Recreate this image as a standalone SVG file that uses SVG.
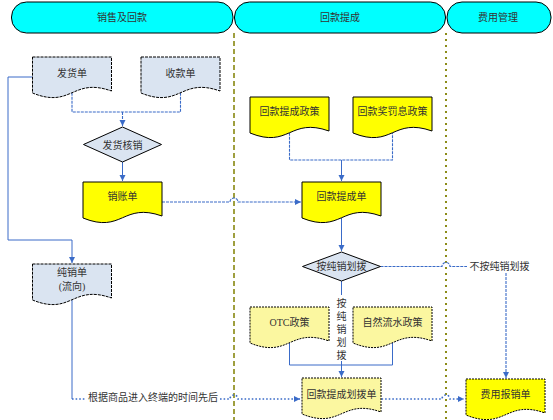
<svg xmlns="http://www.w3.org/2000/svg" width="553" height="420" viewBox="0 0 553 420">
<style>
text{font-family:"Liberation Serif","Noto Sans CJK SC",serif;font-size:10px;fill:#333;text-anchor:middle;dominant-baseline:central}
.pill{fill:#00FFFF;stroke:#000;stroke-width:1}
.docb{fill:#DAE4F1;stroke:#000;stroke-width:1;stroke-dasharray:3 1}
.docy{fill:#FFFF00;stroke:#000;stroke-width:1}
.docp{fill:#FBF7A0;stroke:#000;stroke-width:1;stroke-dasharray:2 1}
.docyd{fill:#FFFF00;stroke:#000;stroke-width:1;stroke-dasharray:2 1}
.dia{fill:#DAE4F1;stroke:#000;stroke-width:1}
.lane1{stroke:#808000;stroke-width:1.5;stroke-dasharray:5 3;fill:none}
.lane2{stroke:#808000;stroke-width:1.8;stroke-dasharray:2 4;fill:none}
.c{fill:none;stroke:#3A6BC8;stroke-width:1}
.cf{fill:none;stroke:#3A6BC8;stroke-width:1.1;stroke-dasharray:3 1}
.cd{fill:none;stroke:#3A6BC8;stroke-width:1.6;stroke-dasharray:1.6 2}
</style>
<defs>
<marker id="arr" markerWidth="7" markerHeight="7" refX="6" refY="3.5" orient="auto" markerUnits="userSpaceOnUse">
<path d="M0,0.5 L6,3.5 L0,6.5 z" fill="#3A6BC8"/>
</marker>
</defs>

<g id="lanes">
<rect class="pill" x="11.5" y="2" width="221.5" height="31" rx="15"/>
<text x="122" y="17">销售及回款</text>
<rect class="pill" x="234.5" y="2" width="211" height="31" rx="15"/>
<text x="340" y="17">回款提成</text>
<rect class="pill" x="447" y="2" width="104" height="31" rx="15"/>
<text x="498" y="17">费用管理</text>
<line class="lane1" x1="234" y1="33" x2="234" y2="420"/>
<line class="lane2" x1="446" y1="33" x2="446" y2="420"/>
</g>

<g id="connectors">
<path class="cf" d="M72,92.8 V112 H180.5 V92.8"/>
<path class="cf" d="M122.5,112 V126" marker-end="url(#arr)"/>
<path class="c" d="M122.5,162 V181" marker-end="url(#arr)"/>
<path class="c" d="M32.5,77 H8 V240 H72 V263" marker-end="url(#arr)"/>
<path class="cf" d="M162,202 H230 A4,4 0 0 1 238,202 H301" marker-end="url(#arr)"/>
<path class="cf" d="M289.5,132.8 V160 H392.5 V132.8"/>
<path class="c" d="M341.5,160 V181" marker-end="url(#arr)"/>
<path class="c" d="M341.5,217.8 V251" marker-end="url(#arr)"/>
<path class="cf" d="M380.5,266.5 H442 A4,4 0 0 1 450,266.5 H467"/>
<path class="cf" d="M506,273 V378" marker-end="url(#arr)"/>
<path class="c" d="M341.5,281 V295"/>
<path class="c" d="M289.5,342.8 V365 H392.5 V342.8"/>
<path class="c" d="M341.5,361 V377" marker-end="url(#arr)"/>
<path class="c" d="M72,299.8 V399"/>
<path class="cd" d="M72,399 H86"/>
<path class="cd" d="M220,399 H230 A4,4 0 0 1 238,399 H300" marker-end="url(#arr)"/>
<path class="cd" d="M381.5,399 H442 A4,4 0 0 1 450,399 H464" marker-end="url(#arr)"/>
<text x="153" y="397">根据商品进入终端的时间先后</text>
<text x="499.5" y="266.5">不按纯销划拨</text>
<text x="341.5" y="303">按</text>
<text x="341.5" y="316">纯</text>
<text x="341.5" y="329">销</text>
<text x="341.5" y="342">划</text>
<text x="341.5" y="355">拨</text>
</g>

<g id="fahuodan">
<path class="docb" d="M32.5,57 h79 v34 C72,77 72,109 32.5,93 z"/>
<text x="72" y="73">发货单</text>
</g>
<g id="shoukuandan">
<path class="docb" d="M141,57 h79 v34 C180.5,77 180.5,109 141,93 z"/>
<text x="180.5" y="73">收款单</text>
</g>
<g id="fahuohexiao">
<path class="dia" d="M122.5,127 L161.5,144.5 L122.5,162 L83.5,144.5 z"/>
<text x="122.5" y="145">发货核销</text>
</g>
<g id="xiaozhangdan">
<path class="docy" d="M83,182 h79 v34 C122.5,202 122.5,234 83,218 z"/>
<text x="122.5" y="196">销账单</text>
</g>
<g id="chunxiaodan">
<path class="docb" d="M32.5,264 h79 v34 C72,284 72,316 32.5,300 z"/>
<text x="72" y="272">纯销单</text>
<text x="72" y="286">(流向)</text>
</g>
<g id="huikuantichengzhengce">
<path class="docy" d="M250,97 h79 v34 C289.5,117 289.5,149 250,133 z"/>
<text x="289.5" y="111">回款提成政策</text>
</g>
<g id="huikuanjiangfaxizhengce">
<path class="docy" d="M353,97 h79 v34 C392.5,117 392.5,149 353,133 z"/>
<text x="392.5" y="111">回款奖罚息政策</text>
</g>
<g id="huikuantichengdan">
<path class="docy" d="M302,182 h79 v34 C341.5,202 341.5,234 302,218 z"/>
<text x="341.5" y="196">回款提成单</text>
</g>
<g id="anchunxiaohuabo">
<path class="dia" d="M341.5,252 L380.5,266.5 L341.5,281 L302.5,266.5 z"/>
<text x="341.5" y="266.5">按纯销划拨</text>
</g>
<g id="otczhengce">
<path class="docp" d="M250,307 h79 v34 C289.5,327 289.5,359 250,343 z"/>
<text x="289.5" y="322">OTC政策</text>
</g>
<g id="ziranliushuizhengce">
<path class="docp" d="M353,307 h79 v34 C392.5,327 392.5,359 353,343 z"/>
<text x="392.5" y="322">自然流水政策</text>
</g>
<g id="huikuantichenghuabodan">
<path class="docp" d="M302,378 h79 v34 C341.5,398 341.5,430 302,414 z"/>
<text x="341.5" y="394">回款提成划拨单</text>
</g>
<g id="feiyongbaoxiaodan">
<path class="docyd" d="M466,379 h79 v34 C505.5,399 505.5,431 466,415 z"/>
<text x="505.5" y="394">费用报销单</text>
</g>
</svg>
